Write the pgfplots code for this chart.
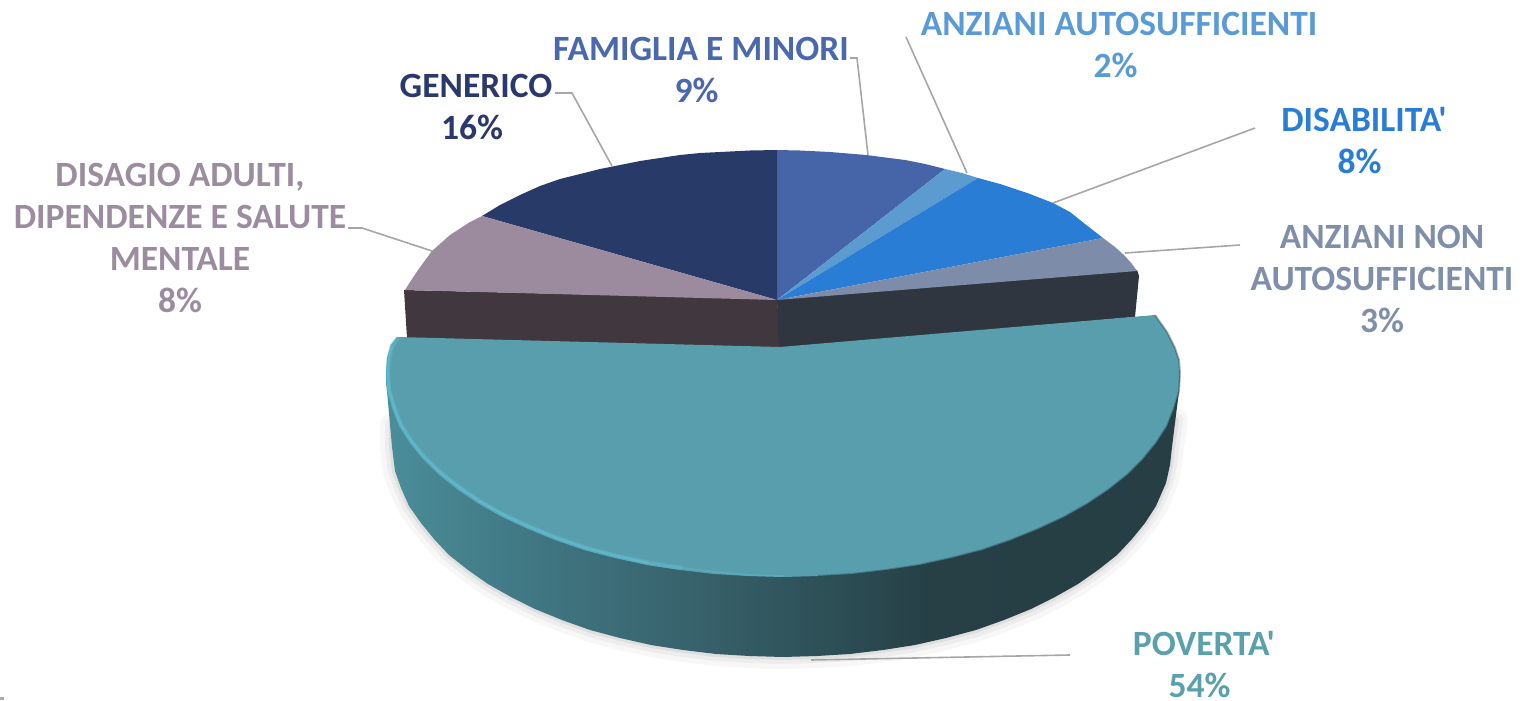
\documentclass[border=0pt]{standalone}
\usepackage{pgfplots}
\pgfplotsset{compat=1.18}
\usepackage{fontspec}
\setmainfont{Carlito}[Ligatures=TeXOff]
\definecolor{cFam}{HTML}{4664A8}
\definecolor{cAA}{HTML}{5B9BD0}
\definecolor{cDis}{HTML}{2A7DD4}
\definecolor{cAN}{HTML}{7D8CA8}
\definecolor{cDA}{HTML}{9C8B9E}
\definecolor{cGen}{HTML}{283B68}
\definecolor{cPov}{HTML}{589EAD}
\definecolor{wallL}{HTML}{41383F}
\definecolor{wallR}{HTML}{303640}
\definecolor{lead}{HTML}{A6A6A6}
\definecolor{tAA}{HTML}{5B9BD5}
\definecolor{tDis}{HTML}{2A7DD6}
\definecolor{tAN}{HTML}{7F8FA9}
\definecolor{tFam}{HTML}{4A68AE}
\definecolor{tGen}{HTML}{29396B}
\definecolor{tDA}{HTML}{9C8CA0}
\definecolor{tPov}{HTML}{5AA0AD}
\definecolor{bevel}{HTML}{5FB7CA}
\pgfdeclarehorizontalshading{povwall}{100bp}{
 rgb(0bp)=(0.290,0.557,0.604);
 rgb(25bp)=(0.290,0.557,0.604);
 rgb(32bp)=(0.259,0.486,0.533);
 rgb(44.7bp)=(0.216,0.380,0.420);
 rgb(50.4bp)=(0.188,0.333,0.361);
 rgb(59.2bp)=(0.149,0.251,0.275);
 rgb(75bp)=(0.149,0.243,0.267);
 rgb(100bp)=(0.149,0.243,0.267)}
\tikzset{lab/.style={font=\fontsize{35.5}{42}\selectfont\bfseries,align=center,anchor=center,inner sep=0pt}}
\begin{document}
\begin{tikzpicture}
\path[use as bounding box] (0,0) rectangle (1521pt,701pt);
\begin{axis}[
  at={(0,0)},anchor=south west,
  width=1521pt,height=701pt,scale only axis,
  xmin=0,xmax=1521,ymin=0,ymax=701,y dir=reverse,
  hide axis,clip=false]
% soft shadow under the exploded slice
\addplot[draw=black,opacity=0.03,line width=24pt,line cap=round,line join=round,forget plot] coordinates {(392,425)(392,447)(395,471)(401,488)(409,506)(421,523)(434,539)(449,555)(468,570)(488,584)(511,597)(535,609)(562,620)(590,630)(620,638)(651,645)(683,650)(716,654)(749,656)(783,657)(817,656)(850,654)(883,650)(915,645)(946,638)(976,630)(1004,620)(1031,609)(1055,597)(1078,584)(1098,570)(1117,555)(1132,539)(1145,523)(1156,506)(1166,483)(1170,465)(1172,447)(1176,420)};
\addplot[draw=black,opacity=0.04,line width=14pt,line cap=round,line join=round,forget plot] coordinates {(392,425)(392,447)(395,471)(401,488)(409,506)(421,523)(434,539)(449,555)(468,570)(488,584)(511,597)(535,609)(562,620)(590,630)(620,638)(651,645)(683,650)(716,654)(749,656)(783,657)(817,656)(850,654)(883,650)(915,645)(946,638)(976,630)(1004,620)(1031,609)(1055,597)(1078,584)(1098,570)(1117,555)(1132,539)(1145,523)(1156,506)(1166,483)(1170,465)(1172,447)(1176,420)};
\addplot[draw=black,opacity=0.06,line width=6pt,line cap=round,line join=round,forget plot] coordinates {(392,425)(392,447)(395,471)(401,488)(409,506)(421,523)(434,539)(449,555)(468,570)(488,584)(511,597)(535,609)(562,620)(590,630)(620,638)(651,645)(683,650)(716,654)(749,656)(783,657)(817,656)(850,654)(883,650)(915,645)(946,638)(976,630)(1004,620)(1031,609)(1055,597)(1078,584)(1098,570)(1117,555)(1132,539)(1145,523)(1156,506)(1166,483)(1170,465)(1172,447)(1176,420)};
% leaders
\addplot[lead,line width=1.6pt,forget plot] coordinates {(850,58)(857,58)(868,155)};
\addplot[lead,line width=1.6pt,forget plot] coordinates {(906,37)(967,173)};
\addplot[lead,line width=1.6pt,forget plot] coordinates {(1255,128)(1053,203)};
\addplot[lead,line width=1.6pt,forget plot] coordinates {(1240,245)(1125,253)};
\addplot[lead,line width=1.6pt,forget plot] coordinates {(555,93)(572,93)(612,166)};
\addplot[lead,line width=1.6pt,forget plot] coordinates {(348,228)(362,228)(432,251)};
\addplot[lead,line width=1.6pt,forget plot] coordinates {(1070,655)(811,660)};
% speck in the lower left corner
\addplot[color=black!55,opacity=0.6,line width=3pt,forget plot] coordinates {(0,698)(4,698)};
% walls of the back slices
\addplot[fill=wallL,draw=none,forget plot] coordinates {(404,290)(777,299)(781,348)(407,338)(404,290)};
\addplot[fill=wallR,draw=none,forget plot] coordinates {(777,299)(1137,270)(1139,276)(1135,317)(783,348)(779,348)(777,299)};
% top faces of the back slices
\addplot[fill=cFam,draw=none,forget plot] coordinates {(777,300)(777,150)(800,150.5)(830,152)(866,155)(905,160)(925,164)(945,169)(777,300)};
\addplot[fill=cAA,draw=none,forget plot] coordinates {(777,300)(945,169)(962,173)(978,178)(777,300)};
\addplot[fill=cDis,draw=none,forget plot] coordinates {(777,300)(978,178)(1000,184)(1030,194)(1053,203)(1070,212)(1085,224)(1103,238)(777,300)};
\addplot[fill=cAN,draw=none,forget plot] coordinates {(777,300)(1103,238)(1115,247)(1125,256)(1132,264)(1137,271)(777,300)};
\addplot[fill=cGen,draw=none,forget plot] coordinates {(777,300)(482,216)(500,205)(520,195)(540,186)(560,179)(580,174)(600,169)(620,165)(640,161)(660,158)(680,155)(700,153)(720,152)(750,150.5)(777,150)(777,300)};
\addplot[fill=cDA,draw=none,forget plot] coordinates {(777,300)(405,290)(410,282)(418,270)(432,251)(450,235)(470,222)(482,216)(777,300)};
% exploded slice: side wall
\addplot[shading=povwall,draw=none,forget plot] coordinates {(386,373)(387,391)(392,447)(395,471)(401,488)(409,506)(421,523)(434,539)(449,555)(468,570)(488,584)(511,597)(535,609)(562,620)(590,630)(620,638)(651,645)(683,650)(716,654)(749,656)(783,657)(817,656)(850,654)(883,650)(915,645)(946,638)(976,630)(1004,620)(1031,609)(1055,597)(1078,584)(1098,570)(1117,555)(1132,539)(1145,523)(1156,506)(1166,483)(1170,465)(1172,447)(1179,391)(1180,373)(783,450)(386,373)};
% exploded slice: top
\addplot[fill=cPov,draw=none,forget plot] coordinates {(397,337)(780,347)(1155,315)(1167,332)(1175,348)(1179,360)(1180,373)(1179,391)(1174,408)(1167,426)(1156,443)(1143,459)(1127,475)(1108,490)(1087,504)(1064,517)(1038,529)(1011,540)(982,550)(951,558)(919,565)(886,570)(852,574)(818,576)(783,577)(748,576)(714,574)(680,570)(647,565)(615,558)(584,550)(555,540)(528,529)(502,517)(479,504)(458,490)(439,475)(423,459)(410,443)(399,426)(392,408)(387,391)(386,373)(387,358)(391,345)(397,337)};
% bevel of the top
\addplot[color=bevel,opacity=0.55,line width=4.5pt,line join=round,forget plot] coordinates {(398,338)(392,346)(389,358)(388,373)(389,390)(394,407)(401,425)(412,442)(425,458)(441,473)(460,488)(481,502)(504,515)(530,527)(557,538)(586,548)(617,556)(649,563)(682,568)};
\addplot[color=bevel,line width=2pt,line join=round,forget plot] coordinates {(392,346)(389,358)(388,373)(389,390)(394,407)(401,425)(412,442)(425,458)(441,473)(460,488)(481,502)(504,515)(530,527)(557,538)(586,548)(617,556)(649,563)};
\addplot[color=bevel,opacity=0.45,line width=2pt,line join=round,forget plot] coordinates {(649,563)(682,568)(716,572)(750,575)(783,576)};
\addplot[color=cPov!45!black,opacity=0.4,line width=2pt,line join=round,forget plot] coordinates {(818,576)(852,574)(886,570)(919,565)(951,558)(982,550)(1011,540)(1038,529)(1064,517)(1087,504)(1108,490)(1127,475)(1143,459)(1156,443)(1167,426)(1174,408)(1179,391)(1180,373)(1179,360)(1175,348)(1167,332)(1155,315)};
% labels
\node[lab,text=tFam] at (axis cs:701,70) {FAMIGLIA E MINORI\\9\%\hspace*{9pt}};
\node[lab,text=tAA] at (axis cs:1119,45) {ANZIANI AUTOSUFFICIENTI\\2\%\hspace*{7pt}};
\node[lab,text=tDis] at (axis cs:1364,141) {DISABILITA'\\8\%\hspace*{9pt}};
\node[lab,text=tAN] at (axis cs:1382,279) {ANZIANI NON\\AUTOSUFFICIENTI\\3\%};
\node[lab,text=tGen] at (axis cs:476,107) {GENERICO\\16\%\hspace*{8pt}};
\node[lab,text=tDA] at (axis cs:180,238) {DISAGIO ADULTI,\\DIPENDENZE E SALUTE\\MENTALE\\8\%};
\node[lab,text=tPov] at (axis cs:1204,665) {POVERTA'\\54\%\hspace*{9pt}};
\end{axis}
\end{tikzpicture}
\end{document}
